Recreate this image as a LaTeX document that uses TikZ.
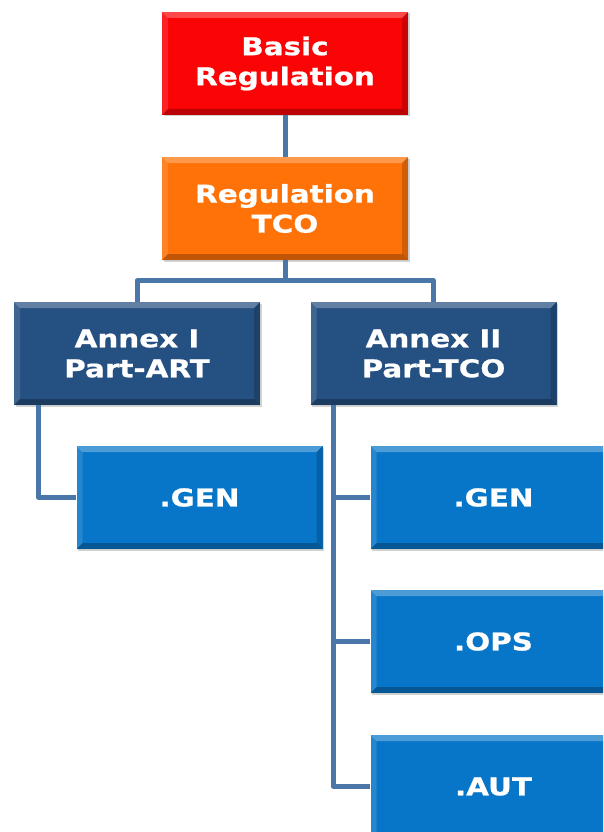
\documentclass[tikz,border=0pt]{standalone}
\usepackage{fontspec}
\usetikzlibrary{shadows}
\newfontfamily\boxfont[FakeStretch=1.2, FakeBold=0.8]{DejaVu Sans Bold}

\definecolor{regred}{RGB}{250,4,6}
\definecolor{regorange}{RGB}{255,114,8}
\definecolor{annexblue}{RGB}{37,80,130}
\definecolor{partblue}{RGB}{8,118,200}
\definecolor{linkblue}{RGB}{74,118,170}

\begin{document}
\begin{tikzpicture}[x=1pt, y=1pt,
   block/.style={fill=#1, minimum width=246pt, minimum height=103pt, inner sep=0pt,
      text=white, align=center, font=\boxfont\fontsize{24.5}{30}\selectfont,
      drop shadow={shadow xshift=1.5pt, shadow yshift=-1.5pt, opacity=0.35},
      path picture={
         \fill[white, opacity=0.28] (path picture bounding box.north west) -- (path picture bounding box.north east)
            -- ([shift={(-6pt,-6pt)}]path picture bounding box.north east) -- ([shift={(6pt,-6pt)}]path picture bounding box.north west) -- cycle;
         \fill[white, opacity=0.12] (path picture bounding box.north west) -- (path picture bounding box.south west)
            -- ([shift={(6pt,6pt)}]path picture bounding box.south west) -- ([shift={(6pt,-6pt)}]path picture bounding box.north west) -- cycle;
         \fill[black, opacity=0.25] (path picture bounding box.south west) -- (path picture bounding box.south east)
            -- ([shift={(-6pt,6pt)}]path picture bounding box.south east) -- ([shift={(6pt,6pt)}]path picture bounding box.south west) -- cycle;
         \fill[black, opacity=0.18] (path picture bounding box.north east) -- (path picture bounding box.south east)
            -- ([shift={(-6pt,6pt)}]path picture bounding box.south east) -- ([shift={(-6pt,-6pt)}]path picture bounding box.north east) -- cycle;
      }},
   link/.style={draw=linkblue, line width=5pt, line join=round},
   ]
   \useasboundingbox (0,0) rectangle (603,-832);
   \clip (0,0) rectangle (603,-832);

   % regulations
   \node[block=regred] (basic) at (285,-63.5) {Basic\\Regulation};
   \node[block=regorange] (regtco) at (285,-208.5) {Regulation\\TCO};

   % annexes
   \node[block=annexblue] (annexI) at (137,-353.5) {Annex I\\Part-ART};
   \node[block=annexblue] (annexII) at (433.5,-353.5) {Annex II\\Part-TCO};

   % subparts
   \node[block=partblue] (artgen) at (199.5,-497.5) {.GEN};
   \node[block=partblue] (tcogen) at (493.5,-497.5) {.GEN};
   \node[block=partblue] (tcoops) at (493.5,-641.5) {.OPS};
   \node[block=partblue] (tcoaut) at (493.5,-786.5) {.AUT};

   % tree lines
   \draw[link] (basic) -- (regtco);
   \draw[link] (regtco.south) -- ++(0,-21);
   \draw[link] (annexI.north) -- ++(0,21) -| (annexII.north);
   \draw[link] ([xshift=25pt]annexI.south west) |- (artgen.west);
   \draw[link] ([xshift=23pt]annexII.south west) |- (tcogen.west);
   \draw[link] ([xshift=23pt]annexII.south west) |- (tcoops.west);
   \draw[link] ([xshift=23pt]annexII.south west) |- (tcoaut.west);

\end{tikzpicture}
\end{document}
